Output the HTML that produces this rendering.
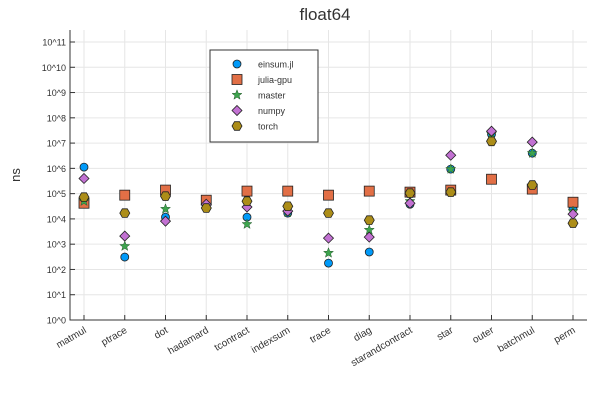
<!DOCTYPE html>
<html><head><meta charset="utf-8"><style>body{margin:0;background:#fff}svg{font-family:"Liberation Sans",sans-serif}</style></head>
<body>
<svg id="c" width="600" height="400">
<text x="325" y="20" font-size="17" text-anchor="middle" fill="#333">float64</text>
<text x="20" y="175" font-size="13" text-anchor="middle" fill="#333" transform="rotate(-90 20 175)">ns</text>
<g id="grid"></g><g id="axes"></g><g id="marks"></g><g id="legend"></g>
</svg>
<script>
const categories=["matmul","ptrace","dot","hadamard","tcontract","indexsum","trace","diag","starandcontract","star","outer","batchmul","perm"];
const seriesNames=["einsum.jl","julia-gpu","master","numpy","torch"];
const einsumVals=[6.05,2.49,4.07,4.55,4.07,4.23,2.25,2.69,4.58,5.97,7.35,6.6,4.39];
const gpuVals=[4.62,4.94,5.14,4.74,5.1,5.1,4.94,5.1,5.06,5.14,5.57,5.18,4.66];
const masterVals=[4.7,2.92,4.39,4.55,3.79,4.25,2.65,3.56,4.7,5.97,7.35,6.6,4.3];
const numpyVals=[5.6,3.32,3.91,4.58,4.47,4.31,3.24,3.28,4.62,6.52,7.47,7.04,4.19];
const torchVals=[4.86,4.23,4.9,4.43,4.7,4.5,4.23,3.95,5.02,5.06,7.07,5.34,3.83];
const yTicks=[0,1,2,3,4,5,6,7,8,9,10,11];
const NS="http://www.w3.org/2000/svg";
const L=70,R=587,T=30,B=320;
const X=i=>84+i*(573-84)/(categories.length-1);
const Y=v=>B-v*(B-42)/11;
function mk(p,tag,a){const e=document.createElementNS(NS,tag);for(const k in a)e.setAttribute(k,a[k]);document.getElementById(p).appendChild(e);return e;}
yTicks.forEach(t=>{
 let g=mk('grid','line',{x1:L,x2:R,y1:Y(t),y2:Y(t),stroke:'#e6e6e6'});
 
 
 let tk=mk('axes','line',{x1:L,x2:L+5,y1:Y(t),y2:Y(t),stroke:'#333'});
 
 
 let tx=mk('axes','text',{x:L-4,y:Y(t)+3.5,'font-size':9,'text-anchor':'end',fill:'#333'});
 tx.textContent='10^'+t;
 
 
});
categories.forEach((c,i)=>{
 let g=mk('grid','line',{x1:X(i),x2:X(i),y1:T,y2:B,stroke:'#e6e6e6'});
 
 
 let tk=mk('axes','line',{x1:X(i),x2:X(i),y1:B,y2:B-5,stroke:'#333'});
 
 
 let tx=mk('axes','text',{x:X(i)+3,y:B+12,'font-size':10,'text-anchor':'end',fill:'#333',transform:`rotate(-30 ${X(i)+3} ${B+12})`});
 tx.textContent=c;
 
 
});
let ax=mk('axes','path',{d:`M${L} ${T}V${B}H${R}`,fill:'none',stroke:'#333'});


const colors=['#009af9','#e26f46','#3da44d','#c271d2','#ac8d18'];
function shape(p,k,x,y){
 const st={fill:colors[k],stroke:'#222','stroke-width':0.8};
 if(k==0)return mk(p,'circle',Object.assign({cx:x,cy:y,r:4},st));
 if(k==1)return mk(p,'rect',Object.assign({x:x-5,y:y-5,width:10,height:10},st));
 if(k==2){let pts=[];for(let j=0;j<10;j++){const r=j%2?2.2:5.2,a=-Math.PI/2+j*Math.PI/5;pts.push((x+r*Math.cos(a)).toFixed(1)+','+(y+r*Math.sin(a)).toFixed(1));}
  return mk(p,'polygon',Object.assign({points:pts.join(' ')},st,{stroke:'#2a5a30','stroke-width':0.5}));}
 if(k==3)return mk(p,'polygon',Object.assign({points:`${x},${y-5} ${x+5},${y} ${x},${y+5} ${x-5},${y}`},st));
 let pts=[];for(let j=0;j<6;j++){const a=j*Math.PI/3;pts.push((x+5*Math.cos(a)).toFixed(1)+','+(y+5*Math.sin(a)).toFixed(1));}
 return mk(p,'polygon',Object.assign({points:pts.join(' ')},st));
}
const all=[einsumVals,gpuVals,masterVals,numpyVals,torchVals];
all.forEach((vals,k)=>vals.forEach((v,i)=>{
 const m=shape('marks',k,X(i),Y(v));
 
 
}));
let lb=mk('legend','rect',{x:210,y:50,width:108,height:92,fill:'#fff',stroke:'#333'});


seriesNames.forEach((n,k)=>{
 const y=64+k*15.5;
 const m=shape('legend',k,237,y);
 
 
 const t=mk('legend','text',{x:258,y:y+3.5,'font-size':9,fill:'#333'});
 t.textContent=n;
 
 
});
</script>
</body></html>
